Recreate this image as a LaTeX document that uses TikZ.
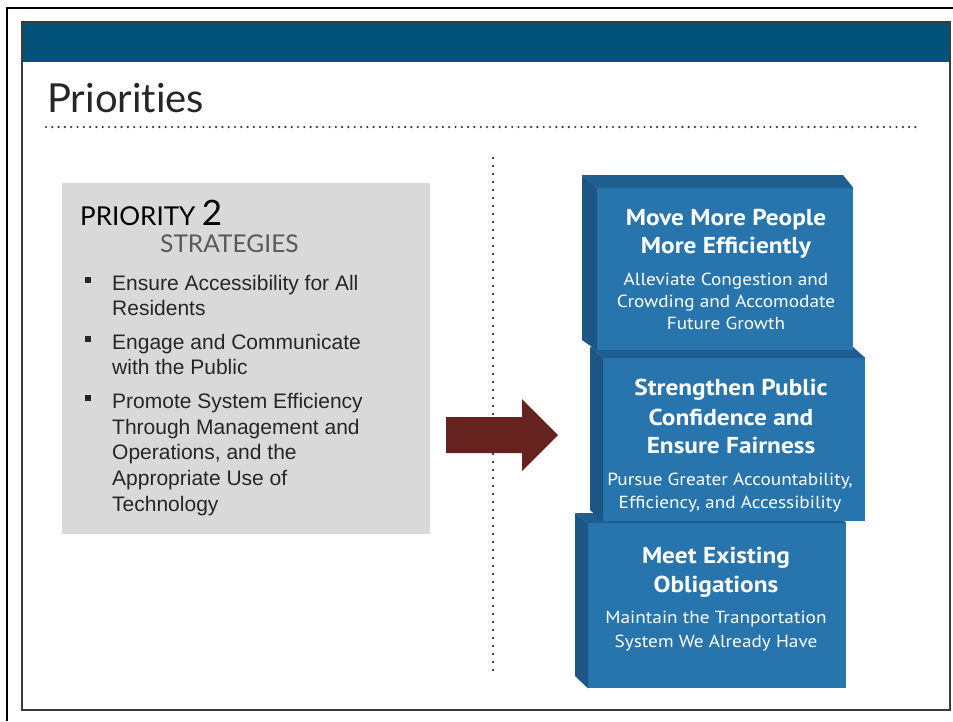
\documentclass[tikz,border=0pt]{standalone}
\usepackage{fontspec}
\setmainfont{Liberation Sans}
\newfontfamily\titlefont[Ligatures=NoCommon]{Lato}
\newfontfamily\blockfont[FakeStretch=1.1]{PT Sans}
\definecolor{bandcol}{HTML}{02527A}
\definecolor{framegray}{HTML}{3C3C3C}
\definecolor{dotgray}{HTML}{333333}
\definecolor{boxgray}{HTML}{D9D9D9}
\definecolor{txtdark}{HTML}{262626}
\definecolor{stratgray}{HTML}{595959}
\definecolor{arrowred}{HTML}{65221F}
\definecolor{frontblue}{HTML}{2874AC}
\definecolor{topblue}{HTML}{1E5E90}
\definecolor{sideblue}{HTML}{1B5684}
\tikzset{
  front/.style={fill=frontblue, draw=none, inner sep=0pt, anchor=north west},
  head/.style={font=\blockfont\bfseries\fontsize{23}{26}\selectfont, text=white, anchor=base, inner sep=0pt},
  sub/.style={font=\blockfont\fontsize{17.5}{20}\selectfont, text=white, anchor=base, inner sep=0pt},
  bultxt/.style={font=\fontsize{21}{24}\selectfont, text=txtdark, anchor=base west, inner sep=0pt},
  bul/.style={fill=txtdark, minimum size=5.5pt, inner sep=0pt},
}
\begin{document}
\begin{tikzpicture}[x=1pt,y=-1pt]
\useasboundingbox (0,0) rectangle (953,721);
\fill[white] (0,0) rectangle (953,721);
% outer frame
\draw[line width=2.5pt, black] (7,721) -- (7,8) -- (953,8);
% slide
\fill[bandcol] (22,22) rectangle (950,62);
\draw[line width=1.3pt, framegray] (22,22) rectangle (950,710);
% title
\node[font=\titlefont\fontsize{40}{44}\selectfont, text=txtdark, anchor=base west, inner sep=0pt] (title) at (47,112) {Priorities};
\draw[line width=2.4pt, line cap=round, dash pattern=on 0pt off 6.3pt, color=dotgray] (46,127) -- (920,127);
% vertical dotted separator
\draw[line width=2.4pt, line cap=round, dash pattern=on 0pt off 8pt, black] (493,158) -- (493,673);
% grey box
\node[fill=boxgray, minimum width=368pt, minimum height=351pt, anchor=north west, inner sep=0pt] (box) at (62,183) {};
\node[font=\titlefont\fontsize{26}{28}\selectfont, text=black, anchor=base west, inner sep=0pt] (prio) at (80,225) {PRIORITY \fontsize{35}{38}\selectfont 2};
\node[font=\titlefont\fontsize{24.5}{26}\selectfont, text=stratgray, anchor=base west, inner sep=0pt] (strat) at (160,252) {STRATEGIES};
% bullets
\node[bul] (b1) at (88,280) {};
\node[bultxt] (t1a) at (112,290) {Ensure Accessibility for All};
\node[bultxt] (t1b) at (112,315) {Residents};
\node[bul] (b2) at (88,339) {};
\node[bultxt] (t2a) at (112,349) {Engage and Communicate};
\node[bultxt] (t2b) at (112,374) {with the Public};
\node[bul] (b3) at (88,398) {};
\node[bultxt] (t3a) at (112,408) {Promote System Efficiency};
\node[bultxt] (t3b) at (112,434) {Through Management and};
\node[bultxt] (t3c) at (112,459) {Operations, and the};
\node[bultxt] (t3d) at (112,485) {Appropriate Use of};
\node[bultxt] (t3e) at (112,511) {Technology};
% arrow
\fill[arrowred] (446,417) -- (522,417) -- (522,399) -- (558,435) -- (522,471) -- (522,453) -- (446,453) -- cycle;
% block 3
\node[front, minimum width=258pt, minimum height=165pt] (f3) at (588,523) {};
\fill[topblue] (575,513) -- (835,513) -- (f3.north east) -- (f3.north west) -- cycle;
\fill[sideblue] (575,513) -- (f3.north west) -- (f3.south west) -- (575,676) -- cycle;
% block 2
\node[front, minimum width=262pt, minimum height=163pt] (f2) at (603,358) {};
\fill[topblue] (590,347) -- (853,347) -- (f2.north east) -- (f2.north west) -- cycle;
\fill[sideblue] (590,347) -- (f2.north west) -- (f2.south west) -- (590,510) -- cycle;
% block 1
\node[front, minimum width=256pt, minimum height=162pt] (f1) at (597,188) {};
\fill[topblue] (582,175) -- (843,175) -- (f1.north east) -- (f1.north west) -- cycle;
\fill[sideblue] (582,175) -- (f1.north west) -- (f1.south west) -- (582,340) -- cycle;
% block texts
\node[head] (h1a) at (726,225) {Move More People};
\node[head] (h1b) at (726,253) {More Efficiently};
\node[sub] (s1a) at (726,285) {Alleviate Congestion and};
\node[sub] (s1b) at (726,307) {Crowding and Accomodate};
\node[sub] (s1c) at (726,329) {Future Growth};
\node[head] (h2a) at (731,395) {Strengthen Public};
\node[head] (h2b) at (731,425) {Confidence and};
\node[head] (h2c) at (731,453) {Ensure Fairness};
\node[sub] (s2a) at (730,485) {Pursue Greater Accountability,};
\node[sub] (s2b) at (730,508) {Efficiency, and Accessibility};
\node[head] (h3a) at (716,563) {Meet Existing};
\node[head] (h3b) at (716,592) {Obligations};
\node[sub] (s3a) at (716,623) {Maintain the Tranportation};
\node[sub] (s3b) at (716,647) {System We Already Have};
\end{tikzpicture}
\end{document}
